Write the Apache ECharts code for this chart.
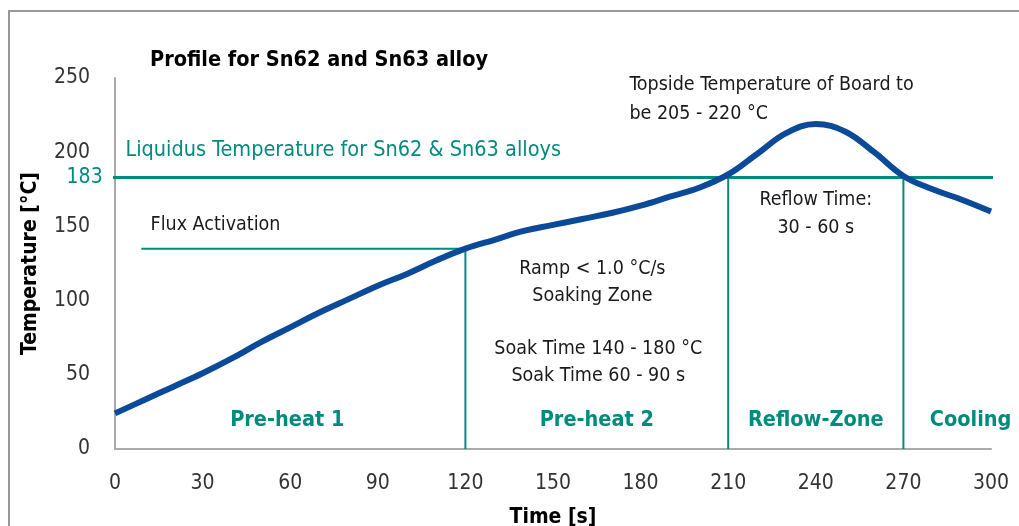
<!DOCTYPE html>
<html>
<head>
<meta charset="utf-8">
<script src="https://cdn.jsdelivr.net/npm/echarts@6/dist/echarts.min.js"></script>
<style>
  html, body { margin: 0; padding: 0; background: #fff; }
  #main { width: 1019px; height: 526px; }
</style>
</head>
<body>
<div id="main"></div>
<script>
// reflow profile
var timeSec = [0, 10, 20, 30, 40, 50, 60, 70, 80, 90, 100, 110, 120, 130, 140, 150,
  160, 170, 180, 190, 200, 210, 220, 230, 240, 250, 260, 270, 280, 290, 300];
var tempC = [24, 33, 42, 51, 61, 72, 82, 92, 101, 110, 118, 127, 135, 141, 147, 151,
  155, 159, 164, 170, 176, 185, 199, 213, 219, 214, 200, 184, 175, 168, 160];
var xTicks = [0, 30, 60, 90, 120, 150, 180, 210, 240, 270, 300];
var yTicks = [0, 50, 100, 150, 200, 250];

var liquidus = 183;
var fluxTemp = 135;
var fluxStart = 9;
var zoneBounds = [120, 210, 270];

var zoneNames = ["Pre-heat 1", "Pre-heat 2", "Reflow-Zone", "Cooling"];
var notes = {
  liquidus: "Liquidus Temperature for Sn62 & Sn63 alloys",
  flux: "Flux Activation",
  topside: "Topside Temperature of Board to\nbe 205 - 220 °C",
  reflow: "Reflow Time:\n30 - 60 s",
  ramp: "Ramp < 1.0 °C/s\nSoaking Zone",
  soak: "Soak Time 140 - 180 °C\nSoak Time 60 - 90 s"
};

var TEAL = "#008b7d";
var BLUE = "#0b4a98";
var INK = "#1a1a1a";
var FONT = "'DejaVu Sans Condensed', 'Liberation Sans Narrow', 'Roboto', sans-serif";

var chart = echarts.init(document.getElementById("main"));

function tealLine(pts, w) {
  return {
    type: "line", data: pts, symbol: "none", clip: false, silent: true,
    lineStyle: { color: TEAL, width: w }, z: 3
  };
}

function note(x, y, text, pos, extra) {
  return {
    value: [x, y],
    label: Object.assign({
      show: true, formatter: text, position: pos, distance: 0,
      color: INK, fontSize: 19.5, fontFamily: FONT, lineHeight: 28,
      align: pos === "right" ? "left" : "center"
    }, extra || {})
  };
}

var zoneStyle = { color: TEAL, fontSize: 21.5, fontWeight: "bold" };

var option = {
  animation: false,
  title: {
    text: "Profile for Sn62 and Sn63 alloy",
    left: 145, top: 44,
    textStyle: { fontFamily: FONT, fontSize: 21.5, fontWeight: "bold", color: "#000" }
  },
  graphic: [{
    type: "rect", shape: { x: 9, y: 11, width: 1100, height: 600 },
    style: { fill: "none", stroke: "#999", lineWidth: 2 }, silent: true
  }],
  grid: { left: 115, right: 28, top: 78, bottom: 77, outerBoundsMode: "none" },
  xAxis: {
    type: "value", min: 0, max: 300, interval: 30,
    name: "Time [s]", nameLocation: "middle", nameGap: 58,
    nameTextStyle: { fontFamily: FONT, fontSize: 21, fontWeight: "bold", color: "#000" },
    axisLine: { lineStyle: { color: "#aaa", width: 2 } },
    axisTick: { show: false },
    splitLine: { show: false },
    axisLabel: {
      margin: 24, fontFamily: FONT, fontSize: 21, color: "#333",
      customValues: xTicks
    }
  },
  yAxis: {
    type: "value", min: 0, max: 250, interval: 50,
    name: "Temperature [°C]", nameLocation: "middle", nameGap: 74,
    nameTextStyle: { fontFamily: FONT, fontSize: 21, fontWeight: "bold", color: "#000" },
    axisLine: { show: true, lineStyle: { color: "#aaa", width: 2 } },
    axisTick: { show: false },
    splitLine: { show: false },
    axisLabel: {
      margin: 25, fontFamily: FONT, fontSize: 21, color: "#333",
      customValues: yTicks
    }
  },
  series: [
    tealLine([[-2, liquidus], [310, liquidus]], 3),
    tealLine([[fluxStart, fluxTemp], [zoneBounds[0], fluxTemp]], 2),
    tealLine([[zoneBounds[0], 0], [zoneBounds[0], fluxTemp]], 2),
    tealLine([[zoneBounds[1], 0], [zoneBounds[1], liquidus]], 2),
    tealLine([[zoneBounds[2], 0], [zoneBounds[2], liquidus]], 2),
    {
      type: "line", smooth: 0.4, symbol: "none", z: 5,
      data: timeSec.map(function (t, i) { return [t, tempC[i]]; }),
      lineStyle: { color: BLUE, width: 6 }
    },
    {
      type: "scatter", symbolSize: 1, clip: false, silent: true, z: 6,
      itemStyle: { color: "rgba(0,0,0,0)", opacity: 1 },
      data: [
        note(-2, liquidus, String(liquidus), "left", { color: TEAL, fontSize: 21, distance: 6, align: "right" }),
        note(3.4, 201, notes.liquidus, "right", { color: TEAL, fontSize: 21.5 }),
        note(12, 151, notes.flux, "right"),
        note(176, 235.5, notes.topside, "right", { lineHeight: 29 }),
        note(240, 158.5, notes.reflow, "inside"),
        note(163.5, 112, notes.ramp, "inside", { lineHeight: 27 }),
        note(165.5, 58, notes.soak, "inside", { lineHeight: 27 }),
        note(59, 19, zoneNames[0], "inside", zoneStyle),
        note(165, 19, zoneNames[1], "inside", zoneStyle),
        note(240, 19, zoneNames[2], "inside", zoneStyle),
        note(293, 19, zoneNames[3], "inside", zoneStyle)
      ]
    }
  ]
};

chart.setOption(option);
</script>
</body>
</html>
